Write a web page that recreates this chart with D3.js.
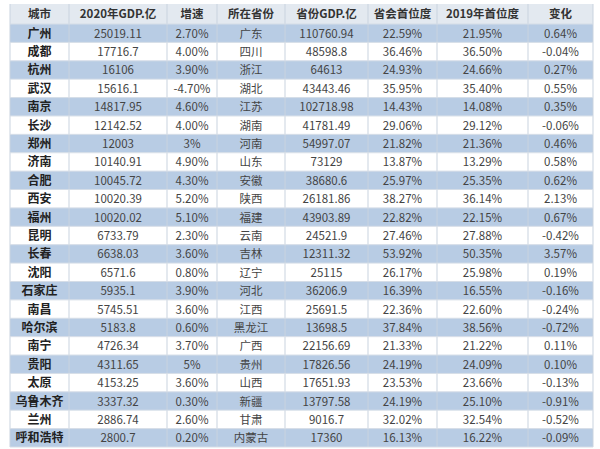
<!DOCTYPE html><html><head><meta charset="utf-8"><script src="https://cdn.jsdelivr.net/npm/d3@7"></script>
<style>body{margin:0;background:#fff}</style></head><body><svg id="c" width="600" height="449"></svg>
<script>
const headers=["城市","2020年GDP.亿","增速","所在省份","省份GDP.亿","省会首位度","2019年首位度","变化"];
const cities=["广州","成都","杭州","武汉","南京","长沙","郑州","济南","合肥","西安","福州","昆明","长春","沈阳","石家庄","南昌","哈尔滨","南宁","贵阳","太原","乌鲁木齐","兰州","呼和浩特"];
const gdp2020=["25019.11","17716.7","16106","15616.1","14817.95","12142.52","12003","10140.91","10045.72","10020.39","10020.02","6733.79","6638.03","6571.6","5935.1","5745.51","5183.8","4726.34","4311.65","4153.25","3337.32","2886.74","2800.7"];
const growth=["2.70%","4.00%","3.90%","-4.70%","4.60%","4.00%","3%","4.90%","4.30%","5.20%","5.10%","2.30%","3.60%","0.80%","3.90%","3.60%","0.60%","3.70%","5%","3.60%","0.30%","2.60%","0.20%"];
const provinces=["广东","四川","浙江","湖北","江苏","湖南","河南","山东","安徽","陕西","福建","云南","吉林","辽宁","河北","江西","黑龙江","广西","贵州","山西","新疆","甘肃","内蒙古"];
const provGdp=["110760.94","48598.8","64613","43443.46","102718.98","41781.49","54997.07","73129","38680.6","26181.86","43903.89","24521.9","12311.32","25115","36206.9","25691.5","13698.5","22156.69","17826.56","17651.93","13797.58","9016.7","17360"];
const primacy2020=["22.59%","36.46%","24.93%","35.95%","14.43%","29.06%","21.82%","13.87%","25.97%","38.27%","22.82%","27.46%","53.92%","26.17%","16.39%","22.36%","37.84%","21.33%","24.19%","23.53%","24.19%","32.02%","16.13%"];
const primacy2019=["21.95%","36.50%","24.66%","35.40%","14.08%","29.12%","21.36%","13.29%","25.35%","36.14%","22.15%","27.88%","50.35%","25.98%","16.55%","22.60%","38.56%","21.22%","24.09%","23.66%","25.10%","32.54%","16.22%"];
const change=["0.64%","-0.04%","0.27%","0.55%","0.35%","-0.06%","0.46%","0.58%","0.62%","2.13%","0.67%","-0.42%","3.57%","0.19%","-0.16%","-0.24%","-0.72%","0.11%","0.10%","-0.13%","-0.91%","-0.52%","-0.09%"];
const cols=[cities,gdp2020,growth,provinces,provGdp,primacy2020,primacy2019,change];
const edges=[10,69,167,217,285,368,437,528,593];
const svg=d3.select("#c");
const top0=4,hH=20,n=cities.length;
const y=d3.scaleBand().domain(d3.range(n)).range([top0+hH,447]).padding(0);
const font="'Noto Sans CJK SC','Noto Sans',sans-serif";
svg.append("rect").attr("x",edges[0]).attr("y",top0).attr("width",edges[8]-edges[0]).attr("height",hH).attr("fill","#e3e9f0");
svg.selectAll("rect.row").data(d3.range(n)).join("rect").attr("class","row")
 .attr("x",edges[0]).attr("y",i=>y(i)).attr("width",edges[8]-edges[0]).attr("height",y.bandwidth())
 .attr("fill",i=>i%2===0?"#b8cce4":"#ffffff");
// grid lines
svg.selectAll("line.v").data(edges).join("line").attr("x1",d=>d).attr("x2",d=>d).attr("y1",top0).attr("y2",447).attr("stroke","#c9d3df").attr("stroke-width",1);
svg.selectAll("line.h").data(d3.range(n+1)).join("line").attr("x1",edges[0]).attr("x2",edges[8]).attr("y1",i=>i===n?447:y(i)).attr("y2",i=>i===n?447:y(i)).attr("stroke","#d5dde7");
headers.forEach((h,c)=>{
 svg.append("text").attr("x",(edges[c]+edges[c+1])/2).attr("y",top0+hH/2+4).attr("text-anchor","middle")
  .attr("font-family",font).attr("font-size",11.5).attr("font-weight","bold").attr("fill","#333").text(h);
 svg.selectAll("text.c"+c).data(cols[c]).join("text").attr("class","c"+c)
  .attr("x",(edges[c]+edges[c+1])/2).attr("y",(d,i)=>y(i)+y.bandwidth()/2+4.5).attr("text-anchor","middle")
  .attr("font-family",font).attr("font-size",c===0?12:11.5).attr("font-weight",c===0?"bold":"normal")
  .attr("fill",c===0?"#222":"#444").text(d=>d);
});
</script></body></html>
